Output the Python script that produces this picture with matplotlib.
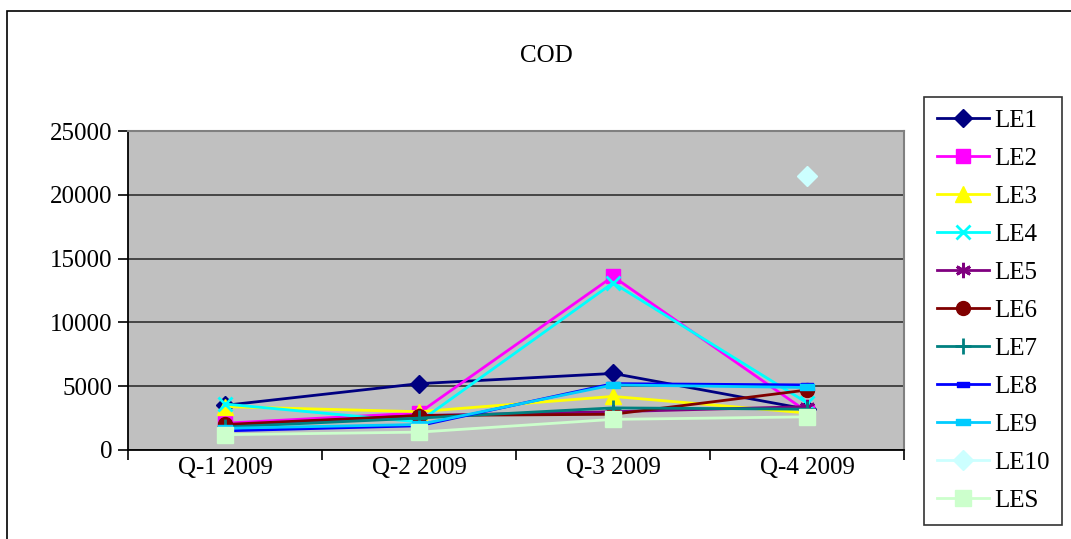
import numpy as np
import matplotlib
matplotlib.use("Agg")
import matplotlib.pyplot as plt
from matplotlib.patches import Rectangle
from matplotlib.path import Path

plt.rcParams['font.family'] = ['Liberation Serif', 'DejaVu Serif']

quarters = ["Q-1 2009", "Q-2 2009", "Q-3 2009", "Q-4 2009"]
nan = np.nan
le1 = [3500, 5200, 6000, 3200]
le2 = [2100, 2900, 13600, 3000]
le3 = [3400, 3000, 4200, 2900]
le4 = [3600, 2200, 13100, 3700]
le5 = [1900, 2700, 3000, 3400]
le6 = [2000, 2700, 2800, 4700]
le7 = [1800, 2500, 3300, 3200]
le8 = [1500, 1900, 5200, 5100]
le9 = [1700, 2000, 5100, 4900]
le10 = [nan, nan, nan, 21500]
les = [1200, 1400, 2400, 2600]

# small horizontal bar marker
bar = Path([(-1, -0.45), (1, -0.45), (1, 0.45), (-1, 0.45), (-1, -0.45)],
           [Path.MOVETO, Path.LINETO, Path.LINETO, Path.LINETO, Path.CLOSEPOLY])

series = [
    ("LE1", le1, "#000080", "D", 9),
    ("LE2", le2, "#FF00FF", "s", 10),
    ("LE3", le3, "#FFFF00", "^", 11),
    ("LE4", le4, "#00FFFF", "x", 10),
    ("LE5", le5, "#800080", (6, 2, 0), 11),
    ("LE6", le6, "#800000", "o", 10),
    ("LE7", le7, "#008080", "+", 12),
    ("LE8", le8, "#0000FF", bar, 8),
    ("LE9", le9, "#00CCFF", bar, 10),
    ("LE10", le10, "#CCFFFF", "D", 10),
    ("LES", les, "#CCFFCC", "s", 12),
]

fig = plt.figure(figsize=(10.71, 5.39), dpi=100)
fig.patches.append(Rectangle((7 / 1071, -0.1), 1.2, 1 - 11 / 539 + 0.1,
                             transform=fig.transFigure, fill=False,
                             edgecolor="black", linewidth=1.2))

ax = fig.add_axes([128 / 1071, 1 - 450 / 539, 776 / 1071, 319 / 539])
ax.set_facecolor("#C0C0C0")

x = np.arange(len(quarters))
for name, vals, col, mk, ms in series:
    mew = 2 if mk in ("x", "+", (6, 2, 0)) else 1
    ax.plot(x, vals, color=col, marker=mk, markersize=ms, linewidth=2,
            markeredgecolor=col, markerfacecolor=col, markeredgewidth=mew,
            label=name)

ax.set_xlim(-0.5, 3.5)
ax.set_ylim(0, 25000)
ax.set_yticks(range(0, 25001, 5000))
ax.yaxis.grid(True, color="#303030", linewidth=1.2)
ax.set_axisbelow(True)
ax.set_xticks(x)
ax.set_xticklabels(quarters)
ax.set_xticks(np.arange(-0.5, 4, 1), minor=True)
ax.tick_params(axis="x", which="major", length=0, labelsize=18, pad=5)
ax.tick_params(axis="x", which="minor", length=7, width=1.2, direction="out")
ax.tick_params(axis="y", length=7, width=1.2, labelsize=18, pad=4)
for s in ("top", "right"):
    ax.spines[s].set_color("#808080")
    ax.spines[s].set_linewidth(1.5)
for s in ("left", "bottom"):
    ax.spines[s].set_color("black")
    ax.spines[s].set_linewidth(1.3)

fig.text(546 / 1071, 1 - 56 / 539, "COD", ha="center", va="center", fontsize=18)

leg = fig.legend(loc="upper left", bbox_to_anchor=(924 / 1071, 1 - 97 / 539),
                 fontsize=18, frameon=True, fancybox=False, edgecolor="black",
                 handlelength=2.1, handletextpad=0.2, labelspacing=0.62,
                 borderpad=0.5, borderaxespad=0)
leg.get_frame().set_linewidth(1.2)

fig.savefig("out.png", dpi=100)
